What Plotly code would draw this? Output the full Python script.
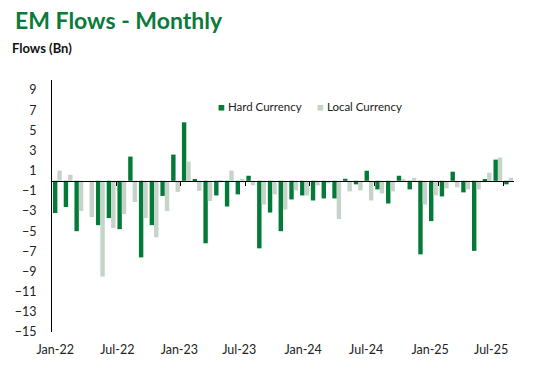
import plotly.graph_objects as go

months = ["Jan-22","Feb-22","Mar-22","Apr-22","May-22","Jun-22","Jul-22","Aug-22","Sep-22","Oct-22","Nov-22","Dec-22",
          "Jan-23","Feb-23","Mar-23","Apr-23","May-23","Jun-23","Jul-23","Aug-23","Sep-23","Oct-23","Nov-23","Dec-23",
          "Jan-24","Feb-24","Mar-24","Apr-24","May-24","Jun-24","Jul-24","Aug-24","Sep-24","Oct-24","Nov-24","Dec-24",
          "Jan-25","Feb-25","Mar-25","Apr-25","May-25","Jun-25","Jul-25"]

hard_currency = [-3.2, -2.6, -5.0, 0.0, -4.4, -3.7, -4.8, 2.4, -7.6, -4.4, -1.5, 2.6,
                 5.8, 0.13, -6.2, -1.45, -2.55, -1.35, 0.5, -6.7, -3.15, -5.0, -1.85, -1.45,
                 -1.95, -1.75, -1.75, 0.2, -0.35, 1.0, -0.85, -2.25, 0.5, -0.85, -7.3, -4.0,
                 -1.55, 0.9, -1.15, -6.95, 0.13, 2.1, -0.35]

local_currency = [1.0, 0.6, -3.0, -3.6, -9.5, -4.7, -3.3, -2.1, -3.7, -5.6, -3.0, -1.1,
                  1.9, -1.0, -2.0, -0.15, 1.0, 0.2, -0.45, -2.35, -1.35, -2.85, -0.95, -1.45,
                  -0.45, -0.25, -3.8, -1.05, -0.95, -1.95, -1.25, -1.05, 0.2, 0.3, -2.35, -1.45,
                  -0.75, -0.65, -0.85, -0.85, 0.8, 2.3, 0.3]

series_names = ["Hard Currency", "Local Currency"]
x_tick_labels = ["Jan-22", "Jul-22", "Jan-23", "Jul-23", "Jan-24", "Jul-24", "Jan-25", "Jul-25"]
x_tick_pos = [-0.2, 5.58, 11.35, 16.93, 22.88, 28.74, 34.7, 40.37]
y_ticks = list(range(-15, 10, 2))
y_min, y_max = -15, 10

DARK = "#037a38"
LIGHT = "#c5d3c9"
FONT = "Lato"

W, H = 542, 370
ML, MR, MT, MB = 52, 28, 80, 38
PW, PH = W - ML - MR, H - MT - MB

idx = list(range(len(months)))
xr = [-0.5, len(months) - 0.5]

fig = go.Figure()
for name, vals, col in [(series_names[0], hard_currency, DARK), (series_names[1], local_currency, LIGHT)]:
    fig.add_trace(go.Bar(x=idx, y=vals, name=name, marker_color=col,
                         marker_line_width=0, customdata=months, showlegend=False,
                         hovertemplate="%{customdata}: %{y}<extra>" + name + "</extra>"))
# invisible helper trace for the zero-crossing category axis
fig.add_trace(go.Scatter(x=xr, y=[0, 0], xaxis="x2", mode="lines",
                         line=dict(width=0), showlegend=False, hoverinfo="skip"))

zero_pos = (0 - y_min) / (y_max - y_min)
boundaries = [i - 0.5 for i in idx if i > 0 and i % 6 == 0]

fig.update_layout(
    width=W, height=H,
    margin=dict(l=ML, r=MR, t=MT, b=MB, autoexpand=False),
    paper_bgcolor="white", plot_bgcolor="white",
    barmode="group", bargap=0.18, bargroupgap=0.0,
    font=dict(family=FONT, size=12, color="#222"),
    showlegend=False,
    xaxis=dict(range=xr, tickmode="array", tickvals=x_tick_pos, ticktext=x_tick_labels,
               ticks="outside", ticklen=6, tickcolor="rgba(0,0,0,0)", showline=False,
               showgrid=False, zeroline=False, automargin=False,
               tickfont=dict(family=FONT, size=12.5, color="#222"), fixedrange=True),
    xaxis2=dict(range=xr, overlaying="x", anchor="free", position=zero_pos, side="bottom",
                tickmode="array", tickvals=boundaries, ticks="outside", ticklen=4, tickwidth=1,
                tickcolor="black", showticklabels=False, showline=True, linecolor="black",
                linewidth=1.3, showgrid=False, zeroline=False, automargin=False),
    yaxis=dict(range=[y_min, y_max], tickmode="array", tickvals=y_ticks, showgrid=False,
               zeroline=False, showline=True, linecolor="black", linewidth=1, ticks="",
               ticklabelstandoff=12, automargin=False,
               tickfont=dict(family=FONT, size=12.5, color="#222"), fixedrange=True),
)

def px_x(p):
    return (p - ML) / PW

def px_y(p):
    return (H - MB - p) / PH

fig.add_annotation(text="<b>EM Flows - Monthly</b>", xref="paper", yref="paper",
                   x=px_x(13), y=px_y(20), xanchor="left", yanchor="middle",
                   showarrow=False, font=dict(family=FONT, size=23, color="#0b7a3b"))
fig.add_annotation(text="<b>Flows (Bn)</b>", xref="paper", yref="paper",
                   x=px_x(10), y=px_y(48), xanchor="left", yanchor="middle",
                   showarrow=False, font=dict(family=FONT, size=13, color="#111"))

# legend
legend_x = [216, 315]
for name, col, lx in zip(series_names, [DARK, LIGHT], legend_x):
    fig.add_annotation(text=f"<span style='color:{col}'>■</span> {name}", xref="paper", yref="paper",
                       x=px_x(lx), y=px_y(106), xanchor="left", yanchor="middle",
                       showarrow=False, font=dict(family=FONT, size=11.5, color="#222"))

fig.write_html("out.html", config={"displayModeBar": False},
               post_script="document.body.style.margin='0px';")
